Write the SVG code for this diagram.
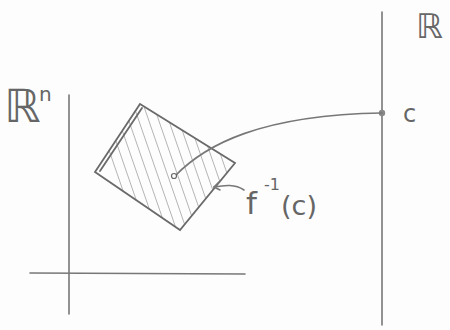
<svg xmlns="http://www.w3.org/2000/svg" width="450" height="330" viewBox="0 0 450 330">
<style>
.ax{stroke:#777;stroke-width:1.6;fill:none;stroke-linecap:round}
.ed{stroke:#6a6a6a;stroke-width:1.8;fill:none;stroke-linecap:round}
.ht{stroke:#b4b4b4;stroke-width:1;fill:none}
.tx{font-family:"DejaVu Sans","Liberation Sans",sans-serif;fill:#666}
</style>
<defs>
<clipPath id="rc"><polygon points="140,104 235,163 180,230 95,172"/></clipPath>
</defs>
<rect width="450" height="330" fill="#fdfdfd"/>
<g id="axes-rn">
<line class="ax" x1="69" y1="95" x2="69" y2="314"/>
<line class="ax" x1="30" y1="273" x2="245" y2="274"/>
<text class="tx" x="4" y="122" font-size="46">ℝ</text>
<text class="tx" x="39" y="101" font-size="20">n</text>
</g>
<g id="axis-r">
<line class="ax" x1="382" y1="12" x2="382" y2="325"/>
<text class="tx" x="416" y="38" font-size="34">ℝ</text>
<text class="tx" x="403" y="122" font-size="24">c</text>
<circle cx="382" cy="113" r="3.2" fill="#888"/>
</g>
<g id="preimage">
<g clip-path="url(#rc)">
<line class="ht" x1="90" y1="95" x2="140" y2="240"/>
<line class="ht" x1="100" y1="95" x2="150" y2="240"/>
<line class="ht" x1="110" y1="95" x2="160" y2="240"/>
<line class="ht" x1="120" y1="95" x2="170" y2="240"/>
<line class="ht" x1="130" y1="95" x2="180" y2="240"/>
<line class="ht" x1="140" y1="95" x2="190" y2="240"/>
<line class="ht" x1="150" y1="95" x2="200" y2="240"/>
<line class="ht" x1="160" y1="95" x2="210" y2="240"/>
<line class="ht" x1="170" y1="95" x2="220" y2="240"/>
<line class="ht" x1="180" y1="95" x2="230" y2="240"/>
<line class="ht" x1="190" y1="95" x2="240" y2="240"/>
<line class="ht" x1="200" y1="95" x2="250" y2="240"/>
</g>
<polygon class="ed" points="140,104 235,163 180,230 95,172"/>
<line class="ed" x1="100" y1="171" x2="142" y2="108"/>
<text class="tx" x="246" y="214" font-size="31">f</text>
<text class="tx" x="264" y="190" font-size="16">-1</text>
<text class="tx" x="281" y="215" font-size="27">(c)</text>
</g>
<g id="connectors">
<path class="ax" d="M175,176 C205,145 260,115 382,113"/>
<circle cx="174" cy="176" r="2.5" fill="#fff" stroke="#666" stroke-width="1.2"/>
<path class="ax" d="M244,190 C235,184 225,185 214,187"/>
<path class="ax" d="M219,182 L214,187 L220,190"/>
</g>
</svg>
